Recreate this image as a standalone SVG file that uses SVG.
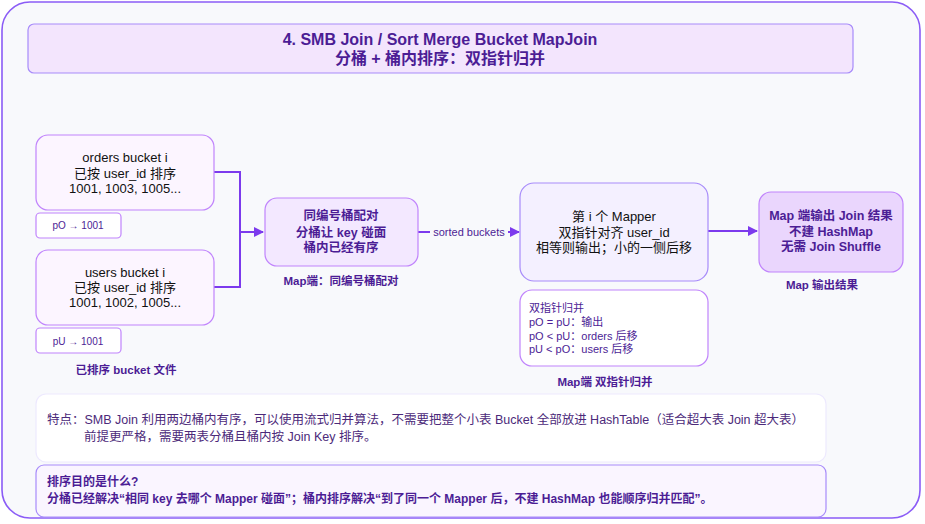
<svg xmlns="http://www.w3.org/2000/svg" width="925" height="524" viewBox="0 0 925 524">
<defs>
<marker id="ah" markerWidth="10" markerHeight="10" refX="9" refY="5" orient="auto" markerUnits="userSpaceOnUse"><path d="M0,0 L10,5 L0,10 Z" fill="#7c3aed"/></marker>
<style>
text{font-family:"Liberation Sans","Noto Sans CJK SC",sans-serif;text-anchor:middle;}
.t{fill:#111;font-size:13px}
.b{fill:#4c1d95;font-size:12.5px;font-weight:bold}
.lbl{fill:#4c1d95;font-size:11.5px;font-weight:bold}
.s{fill:#4c1d95;font-size:10px}
.l{text-anchor:start}
.box{stroke:#c084fc;stroke-width:1.2}
.e{fill:none;stroke:#7c3aed;stroke-width:2}
</style>
</defs>
<rect x="2" y="2" width="918" height="516" rx="28" fill="#f8f9fc" stroke="#8b5cf6" stroke-width="1.6"/>
<g id="title"><rect x="28" y="24" width="825" height="49" rx="6" fill="#f3e5fd" stroke="#a78bfa" stroke-width="1.2"/>
<text x="440" y="45" style="font-size:16px;font-weight:bold;fill:#4c1d95">4. SMB Join / Sort Merge Bucket MapJoin</text>
<text x="440" y="64" style="font-size:16px;font-weight:bold;fill:#4c1d95">分桶 + 桶内排序：双指针归并</text></g>
<g id="edges">
<path class="e" d="M214,172 H240 V232 H263" marker-end="url(#ah)"/>
<path class="e" d="M214,287 H240 V232"/>
<path class="e" d="M418,232 H430" stroke-width="1.5"/>
<path class="e" d="M508,232 H519" marker-end="url(#ah)" stroke-width="1.5"/>
<text x="469" y="236" style="font-size:11px;fill:#4c1d95">sorted buckets</text>
<path class="e" d="M708,231 H757" marker-end="url(#ah)"/>
</g>
<g id="orders"><rect class="box" x="36" y="135" width="178" height="75" rx="12" fill="#fcf5ff"/>
<text class="t" x="125" y="162">orders bucket i</text><text class="t" x="125" y="178">已按 user_id 排序</text><text class="t" x="125" y="193">1001, 1003, 1005...</text></g>
<g id="pO"><rect class="box" x="36" y="213" width="85" height="25" rx="4" fill="#fff"/><text class="s" x="78" y="229">pO → 1001</text></g>
<g id="users"><rect class="box" x="36" y="250" width="178" height="75" rx="12" fill="#fcf5ff"/>
<text class="t" x="125" y="277">users bucket i</text><text class="t" x="125" y="292">已按 user_id 排序</text><text class="t" x="125" y="307">1001, 1002, 1005...</text></g>
<g id="pU"><rect class="box" x="36" y="328" width="85" height="25" rx="4" fill="#fff"/><text class="s" x="78" y="345">pU → 1001</text></g>
<text class="lbl" x="126" y="374">已排序 bucket 文件</text>
<g id="pair"><rect class="box" x="265" y="198" width="153" height="68" rx="12" fill="#f3e8ff"/>
<text class="b" x="341" y="220">同编号桶配对</text><text class="b" x="341" y="237">分桶让 key 碰面</text><text class="b" x="341" y="252">桶内已经有序</text></g>
<text class="lbl" x="341" y="285">Map端：同编号桶配对</text>
<g id="mapper"><rect x="520" y="183" width="188" height="98" rx="14" fill="#f4f0ff" stroke="#a78bfa" stroke-width="1.2"/>
<text class="t" x="614" y="221">第 i 个 Mapper</text><text class="t" x="614" y="237">双指针对齐 user_id</text><text class="t" x="614" y="252">相等则输出；小的一侧后移</text></g>
<g id="note"><rect class="box" x="520" y="290" width="188" height="76" rx="12" fill="#fff"/>
<text class="s l" x="529" y="312" style="font-size:11px">双指针归并</text><text class="s l" x="529" y="326" style="font-size:11px">pO = pU：输出</text><text class="s l" x="529" y="340" style="font-size:11px">pO &lt; pU：orders 后移</text><text class="s l" x="529" y="353" style="font-size:11px">pU &lt; pO：users 后移</text></g>
<text class="lbl" x="605" y="386">Map端 双指针归并</text>
<g id="out"><rect class="box" x="759" y="192" width="144" height="80" rx="12" fill="#ead6fd"/>
<text class="b" x="831" y="220">Map 端输出 Join 结果</text><text class="b" x="831" y="236">不建 HashMap</text><text class="b" x="831" y="251">无需 Join Shuffle</text></g>
<text class="lbl" x="822" y="289">Map 输出结果</text>
<g id="feature"><rect x="36" y="394" width="790" height="68" rx="10" fill="#fff" stroke="#ede9fe" stroke-width="1.2"/>
<text class="l" x="47" y="424" style="font-size:12.5px;fill:#4c2a7a">特点：SMB Join 利用两边桶内有序，可以使用流式归并算法，不需要把整个小表 Bucket 全部放进 HashTable（适合超大表 Join 超大表）</text>
<text class="l" x="84" y="441" style="font-size:12.5px;fill:#4c2a7a">前提更严格，需要两表分桶且桶内按 Join Key 排序。</text></g>
<g id="why"><rect x="36" y="465" width="790" height="52" rx="8" fill="#faf5ff" stroke="#a78bfa" stroke-width="1.2"/>
<text class="l b" x="47" y="486" style="font-size:12px">排序目的是什么?</text>
<text class="l b" x="47" y="503" style="font-size:12px">分桶已经解决“相同 key 去哪个 Mapper 碰面”；桶内排序解决“到了同一个 Mapper 后，不建 HashMap 也能顺序归并匹配”。</text></g>
</svg>
